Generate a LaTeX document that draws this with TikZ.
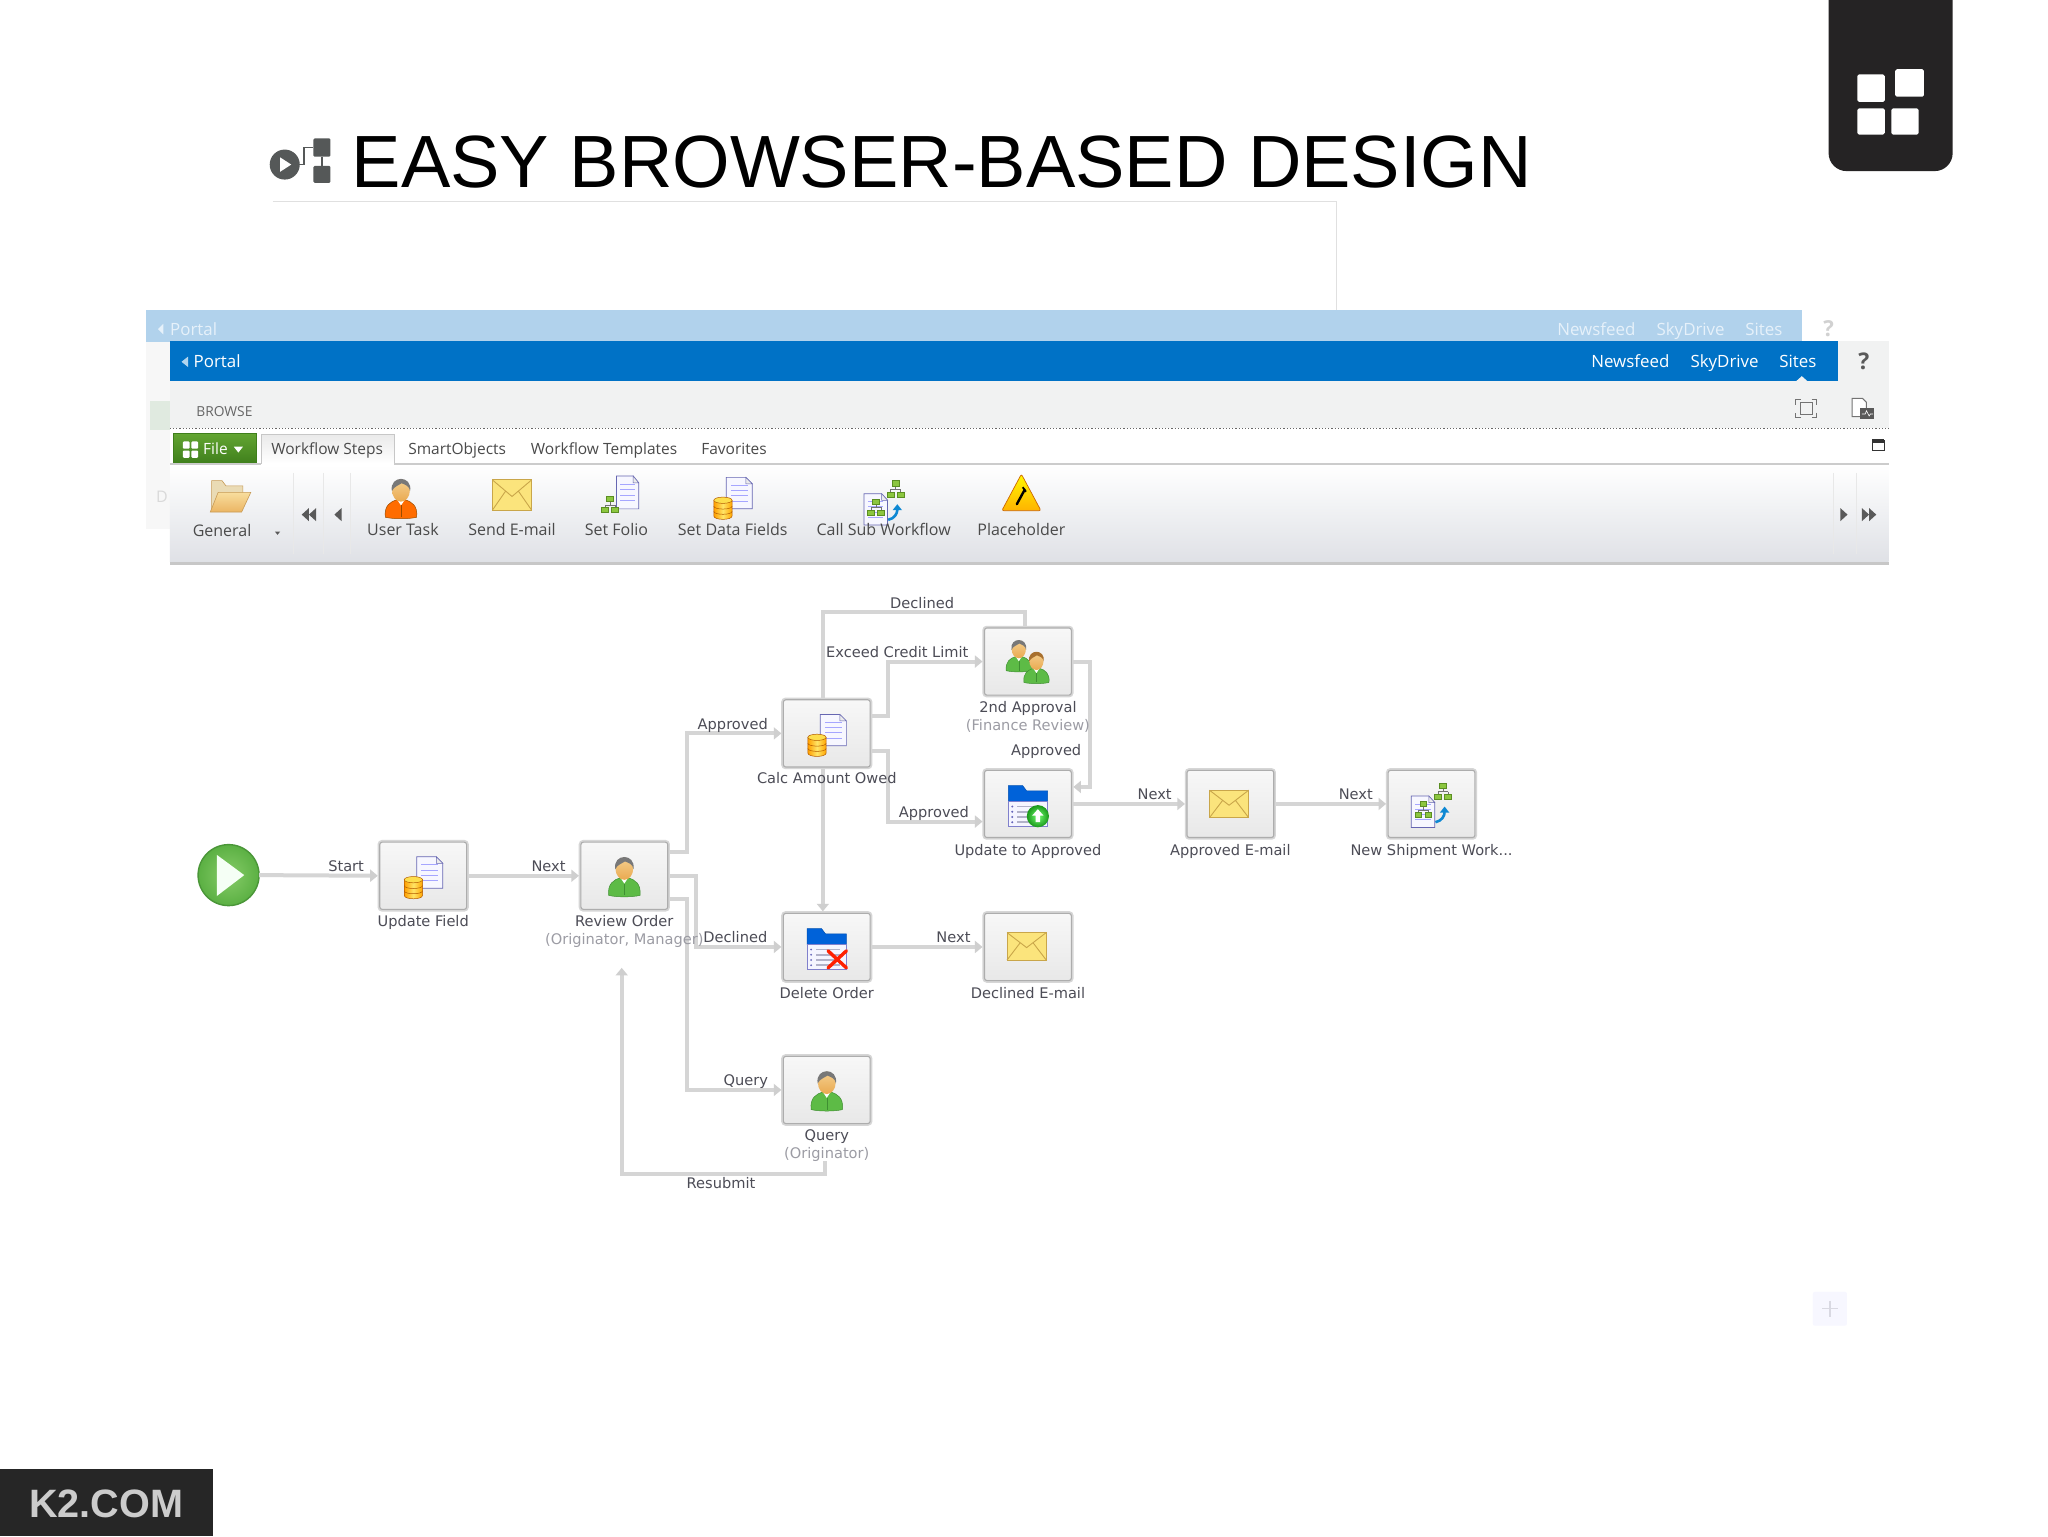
\documentclass[tikz,border=0pt]{standalone}
\usepackage{fontspec}
\setmainfont{Liberation Sans}
\newfontfamily\wffont{DejaVu Sans}
\newfontfamily\uifont{Open Sans}
\usetikzlibrary{arrows.meta,calc}
\definecolor{lnk}{HTML}{D5D5D5}
\definecolor{tipc}{HTML}{CFCFCF}
\definecolor{txtd}{HTML}{4C4C56}
\definecolor{txts}{HTML}{9C9CA4}
\definecolor{uitxt}{HTML}{4A4A4A}
\definecolor{barblue}{HTML}{0072C6}
\definecolor{ghostblue}{HTML}{B1D2EC}
\definecolor{ghosttxt}{HTML}{E6F1FA}
\definecolor{panel}{HTML}{F1F2F2}
\definecolor{badge}{HTML}{252324}
\definecolor{iconGrey}{HTML}{555858}
\definecolor{envF}{HTML}{FBE47C}
\definecolor{envD}{HTML}{C9A64A}
\definecolor{treeF}{HTML}{8CC63F}
\definecolor{treeD}{HTML}{5B8E22}
\definecolor{ribbonB}{HTML}{DFE1E6}
\definecolor{bodyG}{HTML}{5DBB46}
\definecolor{bodyGd}{HTML}{3F8F32}
\definecolor{skin}{HTML}{F5CF8E}
\definecolor{skinB}{HTML}{E9A950}
\definecolor{hairG}{HTML}{787878}
\definecolor{hairB}{HTML}{A8702E}
\definecolor{fileT}{HTML}{63A532}
\definecolor{fileB}{HTML}{3F7F1C}
\definecolor{startI}{HTML}{86CC68}
\definecolor{startO}{HTML}{5BB043}
\definecolor{startD}{HTML}{4A9638}
\definecolor{tanA}{HTML}{EADBB5}
\definecolor{tanB}{HTML}{F8DD9E}
\definecolor{tanC}{HTML}{EBB563}
\definecolor{tanD}{HTML}{C79A55}
\newcommand\personcode[4]{%
  \path[fill=#1,draw=#2,line width=.25pt] (-12,15) .. controls (-13,6) and (-8,3) .. (-3,1.5) -- (3,1.5) .. controls (8,3) and (13,6) .. (12,15) .. controls (6,16.5) and (-6,16.5) .. (-12,15) -- cycle;
  \path[fill=white] (-3,1.5) -- (0,6) -- (3,1.5) -- cycle;
  \path[draw=#2,line width=.25pt] (0,6) -- (0,15);
  \path[top color=#4,bottom color=skinB] (0,-5.5) ellipse [x radius=6.8,y radius=8.6];
  \path[fill=#3] (-7,-5) .. controls (-9,-17.5) and (9,-17.5) .. (7,-5) .. controls (6.5,-9) and (3,-10) .. (0.5,-11) .. controls (-2,-9) and (-5,-9) .. (-7,-5) -- cycle;
}
\tikzset{
  wfbox/.style={rectangle,rounded corners=1.2pt,minimum width=43.4pt,minimum height=33.6pt,inner sep=0pt,outer sep=1pt,
    draw=black!32,line width=.55pt,top color=white!97!black,bottom color=black!9,
    preaction={draw=black!16,line width=2.2pt}},
  flow/.style={draw=lnk,line width=2pt,line join=miter},
  flowa/.style={flow,-{Triangle[length=3.8pt,width=6pt,color=tipc]}},
  lab/.style={inner sep=0pt,text=txtd,text height=6.3pt,text depth=.9pt,font=\wffont\fontsize{7.3}{8.5}\selectfont},
  sublab/.style={lab,text=txts},
  ui/.style={inner sep=0pt,text=uitxt,text height=6.7pt,text depth=1pt,font=\uifont\fontsize{7.75}{9}\selectfont},
  uib/.style={ui,font=\uifont\fontsize{8}{9}\selectfont},
  bar/.style={inner sep=0pt,text=white,text height=7.3pt,text depth=1.2pt,font=\uifont\fontsize{8.45}{10}\selectfont},
  ghost/.style={inner sep=0pt,text=ghosttxt,text height=7.3pt,text depth=1.2pt,font=\uifont\fontsize{8.45}{10}\selectfont},
  icdoc/.pic={
    \path[fill=blue!3!white,draw=black!50!blue!60!white,line width=.35pt] (-10,-12) -- (5,-12) -- (10,-7) -- (10,12) -- (-10,12) -- cycle;
    \path[fill=black!8,draw=black!50!blue!60!white,line width=.25pt] (5,-12) -- (5,-7) -- (10,-7) -- cycle;
    \foreach \yy in {-6,-2,2,6} \path[draw=blue!35!white,line width=.35pt] (-6.5,\yy) -- (6.5,\yy);
  },
  iccyl/.pic={
    \path[left color=orange!75!yellow,right color=orange!70!yellow,middle color=yellow!65!orange!60!white,draw=orange!70!black,line width=.25pt] (-7,-6) -- (-7,6) .. controls (-7,9.5) and (7,9.5) .. (7,6) -- (7,-6) -- cycle;
    \path[fill=yellow!70!orange!70!white,draw=orange!70!black,line width=.25pt] (0,-6) ellipse [x radius=7,y radius=2.4];
    \path[draw=orange!70!black,line width=.25pt] (-7,-1.5) .. controls (-7,1.5) and (7,1.5) .. (7,-1.5) (-7,2.5) .. controls (-7,5.5) and (7,5.5) .. (7,2.5);
  },
  icdocdb/.pic={
    \path (5,-2.5) pic {icdoc};
    \path (-7.5,9) pic {iccyl};
  },
  icperson/.pic={\personcode{bodyG}{bodyGd}{hairG}{skin}},
  icfemale/.pic={\personcode{bodyG}{bodyGd}{hairB}{skin}},
  icuser/.pic={\personcode{orange!85!red}{orange!60!black}{hairG}{skin}},
  icenv/.pic={
    \path[fill=envF,draw=envD,line width=.5pt] (-15,-10.5) rectangle (15,10.5);
    \path[draw=envD,line width=.45pt] (-15,-10.5) -- (0,1) -- (15,-10.5) (-15,10.5) -- (-5,-2.6) (15,10.5) -- (5,-2.6);
  },
  icfolder/.pic={
    \path[fill=blue!55!cyan!85!black,draw=blue!55!cyan!70!black,line width=.25pt] (-15,-15) -- (-4,-15) -- (-1,-11) -- (15,-11) -- (15,-3) -- (-15,-3) -- cycle;
    \path[fill=blue!4!white,draw=black!40!blue!50!white,line width=.3pt] (-15,-3) rectangle (15,16);
    \foreach \yy in {1,5,9,13} {
      \path[fill=black!45!blue!60!white] (-12,\yy) circle [radius=.8];
      \path[draw=blue!30!black!30!white,line width=.8pt] (-8,\yy) -- (10,\yy);
    }
  },
  icfoldup/.pic={
    \path pic {icfolder};
    \path[inner color=green!55!white,outer color=green!55!black!90!white] (7.6,8.4) circle [radius=8.5];
    \path[fill=white] (7.6,3) -- (12,8) -- (9.4,8) -- (9.4,13) -- (5.8,13) -- (5.8,8) -- (3.2,8) -- cycle;
  },
  icfolddel/.pic={
    \path pic {icfolder};
    \path[draw=red!75!orange,line width=1.7pt,line cap=round] (1,2) -- (15,15) (15,2) -- (1,15);
  },
  ictwo/.pic={
    \path (-7,-5) pic[scale=.8] {icperson};
    \path (6.5,4) pic[scale=.8] {icfemale};
  },
  ictree/.pic={
    \path[draw=black!55,line width=.3pt] (0,0) -- (0,4.5) (-3.8,4.5) -- (3.8,4.5) (-3.8,4.5) -- (-3.8,7) (3.8,4.5) -- (3.8,7);
    \path[fill=treeF,draw=treeD,line width=.25pt] (-2.6,-2) rectangle (2.6,2);
    \path[fill=treeF,draw=treeD,line width=.25pt] (-6.4,6.5) rectangle (-1.2,10.5);
    \path[fill=treeF,draw=treeD,line width=.25pt] (1.2,6.5) rectangle (6.4,10.5);
  },
  icsub/.pic={
    \path (-6.5,6) pic[xscale=.9,yscale=1] {icdoc};
    \path (-6.3,0) pic {ictree};
    \path (8.7,-14) pic {ictree};
    \path[draw=cyan!70!blue,line width=1.3pt,-{Triangle[length=3pt,width=4.5pt]}] (3,14) .. controls (8,13) and (10,9) .. (10,2);
  },
  icfolio/.pic={
    \path (8.5,-3) pic[xscale=.85,yscale=1.05] {icdoc};
    \path (-5,2) pic {ictree};
  },
  icopen/.pic={
    \path[fill=tanA,draw=tanD,line width=.3pt] (-14,-8) -- (-14,-12) -- (-6,-12) -- (-3,-8) -- (10,-8) -- (10,0) -- (-14,10) -- cycle;
    \path[top color=tanB,bottom color=tanC,draw=tanD,line width=.3pt] (-9,-3) -- (16,-3) -- (9,12) -- (-15,12) -- cycle;
  },
  icwarn/.pic={
    \path[top color=yellow!95!orange,bottom color=orange!60!yellow,draw=orange!80!black,line width=.35pt,rounded corners=1pt] (0,-15) -- (15,13) -- (-15,13) -- cycle;
    \path[draw=black,line width=1.2pt,line cap=round] (-3.5,8) -- (2.5,-3);
    \path[draw=black,line width=.9pt] (1,-5) -- (3.5,-1.5);
  },
}
\begin{document}
\begin{tikzpicture}[x=0.653061pt,y=-0.653061pt]
\useasboundingbox (0,0) rectangle (1568,1176);
\path[fill=white] (0,0) rectangle (1568,1176);
% badge
\path[fill=badge,rounded corners=9pt] (1400,-30) rectangle (1495,131);
\foreach \a/\b/\c/\d in {1422/57/1443/78,1451/53/1473/74,1422/83/1443/103,1448/83/1469/103}
  \path[fill=white,rounded corners=.8pt] (\a,\b) rectangle (\c,\d);
% title icon
\path[fill=iconGrey] (218,126) circle [radius=11.5];
\path[fill=white] (214.5,120.5) -- (223,126) -- (214.5,131.5) -- cycle;
\path[fill=iconGrey,rounded corners=.6pt] (240,106) rectangle (253,120);
\path[fill=iconGrey,rounded corners=.6pt] (240,127) rectangle (253,140);
\path[draw=iconGrey,line width=.9pt] (229,126) -- (233,126) -- (233,113) -- (240,113) (246.5,120) -- (246.5,127);
\node[anchor=west,inner sep=0pt,text=black,font=\fontsize{37}{40}\selectfont] (title) at (269,124) {EASY BROWSER-BASED DESIGN};
\path[draw=black!12,line width=.6pt] (209,154) -- (1023,154) -- (1023,237);
% ghost layer
\path[fill=black!3] (112,261) rectangle (130,405);
\path[fill=green!30!black!12] (115,307) rectangle (130,329);
\path[fill=ghostblue] (112,237) rectangle (1380,262);
\node[ghost,anchor=west] (gPortal) at (130,252) {Portal};
\path[fill=ghosttxt] (121,252) -- (125,248) -- (125,256) -- cycle;
\node[ghost,anchor=west] (gNews) at (1192,252) {Newsfeed};
\node[ghost,anchor=west] (gSky) at (1268,252) {SkyDrive};
\node[ghost,anchor=west] (gSites) at (1336,252) {Sites};
\node[inner sep=0pt,text=black!18,font=\uifont\bfseries\fontsize{11}{12}\selectfont] (gHelp) at (1400,252) {?};
\node[inner sep=0pt,text=black!15,font=\uifont\fontsize{8}{9}\selectfont] (gD) at (124,380) {D};
% top bars
\path[fill=panel] (130,261) rectangle (1446,328);
\path[fill=barblue] (130,261) rectangle (1407,292);
\path[fill=white!70!barblue] (139,277) -- (144,273) -- (144,281) -- cycle;
\node[bar,anchor=west] (portal) at (148,277) {Portal};
\node[bar,anchor=west] (news) at (1218,277) {Newsfeed};
\node[bar,anchor=west] (sky) at (1294,277) {SkyDrive};
\node[bar,anchor=west] (sites) at (1362,277) {Sites};
\path[fill=panel] (1375,292) -- (1379.5,288) -- (1384,292) -- cycle;
\node[inner sep=0pt,text=black!65,font=\uifont\bfseries\fontsize{11.5}{12}\selectfont] (help) at (1427,277) {?};
\node[ui,anchor=west,text=black!60,font=\uifont\fontsize{6.9}{8}\selectfont] (browse) at (150,314.5) {BROWSE};
% focus icon
\path[draw=black!55,line width=.5pt] (1375,310) -- (1375,306) -- (1379,306) (1387,306) -- (1391,306) -- (1391,310) (1391,316) -- (1391,320) -- (1387,320) (1379,320) -- (1375,320) -- (1375,316);
\path[draw=black!55,line width=.5pt] (1378.5,308.5) rectangle (1387.5,317.5);
% doc icon
\path[draw=black!55,fill=white,line width=.5pt] (1418,305) -- (1426,305) -- (1429,308) -- (1429,319) -- (1418,319) -- cycle;
\path[fill=black!65] (1424,312) rectangle (1435,321);
\path[draw=white,line width=.3pt] (1425.5,317) -- (1428,317) -- (1429,314.5) -- (1431,318.5) -- (1432,317) -- (1434,317);
\path[draw=black!60,densely dotted,line width=.6pt] (130,328) -- (1446,328);
% tab row
\path[fill=white] (130,329) rectangle (1446,355);
\path[top color=fileT,bottom color=fileB,draw=fileB,line width=.3pt] (133,332) rectangle (196,355);
\foreach \a/\b in {140/338,146.5/338,140/345,146.5/345}
  \path[fill=white,rounded corners=.5pt] (\a,\b) rectangle ++(5.2,5.5);
\node[ui,text=white] (file) at (165,343.5) {File};
\path[fill=white] (179,342) -- (186,342) -- (182.5,346.5) -- cycle;
\path[top color=black!8,bottom color=white,draw=black!22,line width=.5pt] (200,355) -- (200,333) -- (302,333) -- (302,355);
\node[ui] (tWS) at (250.5,343.5) {Workflow Steps};
\node[ui] (tSO) at (350,343.5) {SmartObjects};
\node[ui] (tWT) at (462.5,343.5) {Workflow Templates};
\node[ui] (tFav) at (562,343.5) {Favorites};
\path[fill=white,draw=black!80,line width=.6pt] (1433.5,337) rectangle (1442.5,345);
\path[fill=black!80] (1433.5,336) rectangle (1442.5,339);
% ribbon
\path[top color=white,bottom color=ribbonB] (130,356) rectangle (1446,430);
\path[fill=black!22] (130,430) rectangle (1446,432.5);
\path[fill=black!20] (130,354.8) rectangle (200,356.2);
\path[fill=black!20] (302,354.8) rectangle (1446,356.2);
\foreach \xx in {225,248,268,1404,1421}
  \path[draw=black!9,line width=.5pt] (\xx,362) -- (\xx,424);
% ribbon icons
\path (176,380) pic {icopen};
\path (307,381) pic {icuser};
\path (392,379) pic[yscale=1.1] {icenv};
\path (472,380) pic {icfolio};
\path (561,380) pic {icdocdb};
\path (677,384) pic {icsub};
\path (782,378) pic {icwarn};
% ribbon captions
\node[uib] (rGen) at (170,406.5) {General};
\path[fill=black!65] (210.5,407) -- (214.5,407) -- (212.5,409.5) -- cycle;
\node[uib] (rUser) at (308.5,405.5) {User Task};
\node[uib] (rMail) at (392,405.5) {Send E-mail};
\node[uib] (rFolio) at (472,405.5) {Set Folio};
\node[uib] (rData) at (561,405.5) {Set Data Fields};
\node[uib] (rCall) at (676.5,405.5) {Call Sub Workflow};
\node[uib] (rPlace) at (782,405.5) {Placeholder};
% nav arrows
\foreach \xx in {231,236.5} \path[fill=black!65] (\xx,394) -- (\xx+5.5,389) -- (\xx+5.5,399) -- cycle;
\path[fill=black!65] (256,394) -- (261.5,389) -- (261.5,399) -- cycle;
\path[fill=black!65] (1409,389) -- (1414.5,394) -- (1409,399) -- cycle;
\foreach \xx in {1425.5,1431} \path[fill=black!65] (\xx,389) -- (\xx+5.5,394) -- (\xx,399) -- cycle;
% workflow start
\node[circle,minimum size=30.5pt,inner sep=0pt,outer sep=0pt,inner color=startI,outer color=startO,draw=startD,line width=.7pt] (start) at (175,670) {};
\path[fill=white!96!green] (166,654.5) -- (187,670) -- (166,686) -- cycle;
% boxes
\node[wfbox] (upf) at (324,670.5) {};
\node[wfbox] (rev) at (478,670.5) {};
\node[wfbox] (clc) at (633,561.5) {};
\node[wfbox] (ap2) at (787,506.5) {};
\node[wfbox] (upa) at (787,615.5) {};
\node[wfbox] (ape) at (942,615.5) {};
\node[wfbox] (nsw) at (1096,615.5) {};
\node[wfbox] (del) at (633,725) {};
\node[wfbox] (dee) at (787,725) {};
\node[wfbox] (qry) at (633,834.5) {};
% box icons
\path (upf.center) pic {icdocdb};
\path (rev.center) pic {icperson};
\path (clc.center) pic {icdocdb};
\path (ap2.center) pic {ictwo};
\path ($(upa.center)+(0,1)$) pic {icfoldup};
\path ($(ape.center)+(-1,0)$) pic {icenv};
\path (nsw.center) pic {icsub};
\path ($(del.center)+(0,1)$) pic {icfolddel};
\path ($(dee.center)+(-1,-0.5)$) pic {icenv};
\path (qry.center) pic {icperson};
% connectors
\coordinate (revIn) at (476,741);
\coordinate (resFrom) at (632,889);
\draw[flowa] (start.east) -- (upf.west);
\draw[flowa] (upf.east) -- (rev.west);
\draw[flowa] ($(rev.east)+(0,-18)$) -- ++(13,0) |- (clc.west);
\draw[flowa] (rev.east) -- ++(20,0) |- (del.west);
\draw[flowa] ($(rev.east)+(0,18)$) -- ++(13,0) |- (qry.west);
\draw[flowa] ($(clc.east)+(0,-13.5)$) -- ++(12,0) |- (ap2.west);
\draw[flowa] ($(clc.east)+(0,13.5)$) -- ++(12,0) |- ($(upa.west)+(0,13.5)$);
\draw[flow] ($(clc.north)+(-3,0)$) -- ++(0,-66) -| ($(ap2.north)+(-2,0)$);
\draw[flowa] ($(clc.south)+(-3,0)$) -- ($(del.north)+(-3,0)$);
\draw[flowa] (ap2.east) -- ++(13,0) |- ($(upa.east)+(0,-13)$);
\draw[flowa] (upa.east) -- (ape.west);
\draw[flowa] (ape.east) -- (nsw.west);
\draw[flowa] (del.east) -- (dee.west);
\draw[flowa] (resFrom) -- ++(0,10) -| (revIn);
% connector labels
\node[lab] (lStart) at (265,663) {Start};
\node[lab] (lN1) at (420,663) {Next};
\node[lab] (lA1) at (561,554) {Approved};
\node[lab] (lDec1) at (706,462) {Declined};
\node[lab] (lEx) at (687,499) {Exceed Credit Limit};
\node[lab] (lA2) at (801,574.5) {Approved};
\node[lab] (lA3) at (715,622) {Approved};
\node[lab] (lN2) at (884,608) {Next};
\node[lab] (lN3) at (1038,608) {Next};
\node[lab] (lDec2) at (563,717.5) {Declined};
\node[lab] (lN4) at (730,717.5) {Next};
\node[lab] (lQ) at (571,827) {Query};
\node[lab] (lRes) at (552,906) {Resubmit};
% captions
\node[lab] (cUpf) at (324,705) {Update Field};
\node[lab] (cRev) at (478,705) {Review Order};
\node[sublab] (cRev2) at (478,719) {(Originator, Manager)};
\node[lab] (cClc) at (633,596) {Calc Amount Owed};
\node[lab] (cAp2) at (787,541.5) {2nd Approval};
\node[sublab] (cAp2b) at (787,555) {(Finance Review)};
\node[lab] (cUpa) at (787,651) {Update to Approved};
\node[lab] (cApe) at (942,651) {Approved E-mail};
\node[lab] (cNsw) at (1096,651) {New Shipment Work...};
\node[lab] (cDel) at (633,760) {Delete Order};
\node[lab] (cDee) at (787,760) {Declined E-mail};
\node[lab] (cQry) at (633,869) {Query};
\node[sublab] (cQry2) at (633,882.5) {(Originator)};
% zoom pad
\path[fill=blue!3!white,rounded corners=1pt] (1388,989) rectangle (1414,1015);
\path[draw=blue!25!black!15!white,line width=.7pt] (1401,996) -- (1401,1008) (1395,1002) -- (1407,1002);
% footer
\path[fill=black!85] (0,1125) rectangle (163,1176);
\node[anchor=west,inner sep=0pt,text=black!20,font=\bfseries\fontsize{19.8}{21}\selectfont] (k2) at (22,1151.5) {K2.COM};
\end{tikzpicture}
\end{document}
